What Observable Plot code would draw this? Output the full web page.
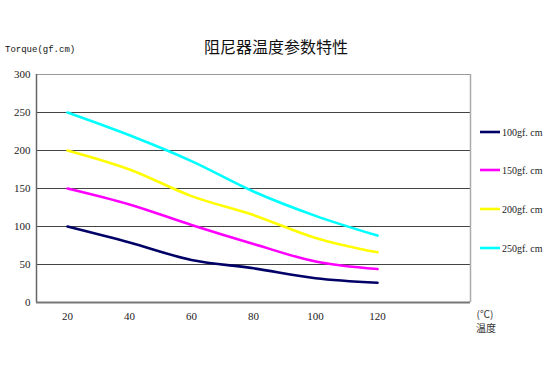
<!DOCTYPE html>
<html>
<head>
<meta charset="utf-8">
<script src="https://cdn.jsdelivr.net/npm/d3@7"></script>
<script src="https://cdn.jsdelivr.net/npm/@observablehq/plot@0.6"></script>
<style>
body { margin: 0; background: #fff; }
</style>
</head>
<body>
<div id="chart"></div>
<script>
const temps = [20, 40, 60, 80, 100, 120];
const series = ["100gf.cm", "150gf.cm", "200gf.cm", "250gf.cm"];
const colors = ["#000066", "#ff00ff", "#ffff00", "#00ffff"];
const v100 = [100, 79, 56, 45, 32, 26];
const v150 = [150, 129, 102, 77, 54, 44];
const v200 = [200, 175, 140, 115, 85, 66];
const v250 = [250, 220, 186, 146, 114, 88];
const yTicks = [0, 50, 100, 150, 200, 250, 300];
const xTicks = [20, 40, 60, 80, 100, 120];

const allVals = [v100, v150, v200, v250];
const data = [];
series.forEach((s, i) => temps.forEach((t, j) => data.push({series: s, t, v: allVals[i][j]})));

const W = 552, H = 373;
const plot = Plot.plot({
  width: W, height: H,
  marginLeft: 36, marginRight: 82, marginTop: 74, marginBottom: 71,
  style: {fontFamily: "'Liberation Serif', 'DejaVu Serif', serif", fontSize: "11px", color: "#222", background: "#fff"},
  x: {domain: [10, 150], ticks: xTicks, tickSize: 0, tickPadding: 10, label: null},
  y: {domain: [0, 300], ticks: yTicks, tickSize: 0, tickPadding: 6, label: null},
  color: {domain: series, range: colors},
  marks: [
    Plot.gridY(yTicks.filter(d => d > 0 && d < 300), {stroke: "#444", strokeOpacity: 1, strokeWidth: 1}),
    Plot.ruleY([300], {stroke: "#999", strokeWidth: 1}),
    Plot.ruleX([150], {stroke: "#aaa", strokeWidth: 1.5}),
    Plot.ruleX([10], {stroke: "#666", strokeWidth: 1.5}),
    Plot.ruleY([0], {stroke: "#777", strokeWidth: 2}),
    Plot.line(data, {x: "t", y: "v", z: "series", stroke: "series", strokeWidth: 2.6, curve: "monotone-x"}),
    Plot.axisX({ticks: xTicks, tickSize: 0, tickPadding: 10, fontSize: 11}),
    Plot.axisY({ticks: yTicks, tickSize: 0, tickPadding: 6, fontSize: 11})
  ]
});
document.getElementById("chart").appendChild(plot);

const svg = d3.select(plot);
svg.append("text").attr("x", 276).attr("y", 53).attr("text-anchor", "middle")
  .style("font-family", "'Noto Sans CJK SC', sans-serif").style("font-size", "16px").attr("fill", "#111")
  .text("阻尼器温度参数特性");
svg.append("text").attr("x", 5).attr("y", 52).attr("text-anchor", "start")
  .style("font-family", "'Liberation Mono', 'DejaVu Sans Mono', monospace").style("font-size", "9px").attr("fill", "#111")
  .text("Torque(gf.cm)");
svg.append("text").attr("x", 485).attr("y", 318).attr("text-anchor", "middle")
  .style("font-family", "'Noto Sans CJK SC', sans-serif").style("font-size", "10px").attr("fill", "#333")
  .text("(℃)");
svg.append("text").attr("x", 486).attr("y", 332).attr("text-anchor", "middle")
  .style("font-family", "'Noto Sans CJK SC', sans-serif").style("font-size", "10px").attr("fill", "#333")
  .text("温度");

const legendY = [132, 170, 209, 248];
const lg = svg.append("g");
series.forEach((s, i) => {
  lg.append("line").attr("x1", 480).attr("x2", 500).attr("y1", legendY[i]).attr("y2", legendY[i])
    .attr("stroke", colors[i]).attr("stroke-width", 2.6);
  lg.append("text").attr("x", 502).attr("y", legendY[i] + 3.5).attr("text-anchor", "start")
    .style("font-family", "'Liberation Serif', 'DejaVu Serif', serif").style("font-size", "10px").attr("fill", "#222")
    .text(s.replace(".", ". "));
});
</script>
</body>
</html>
